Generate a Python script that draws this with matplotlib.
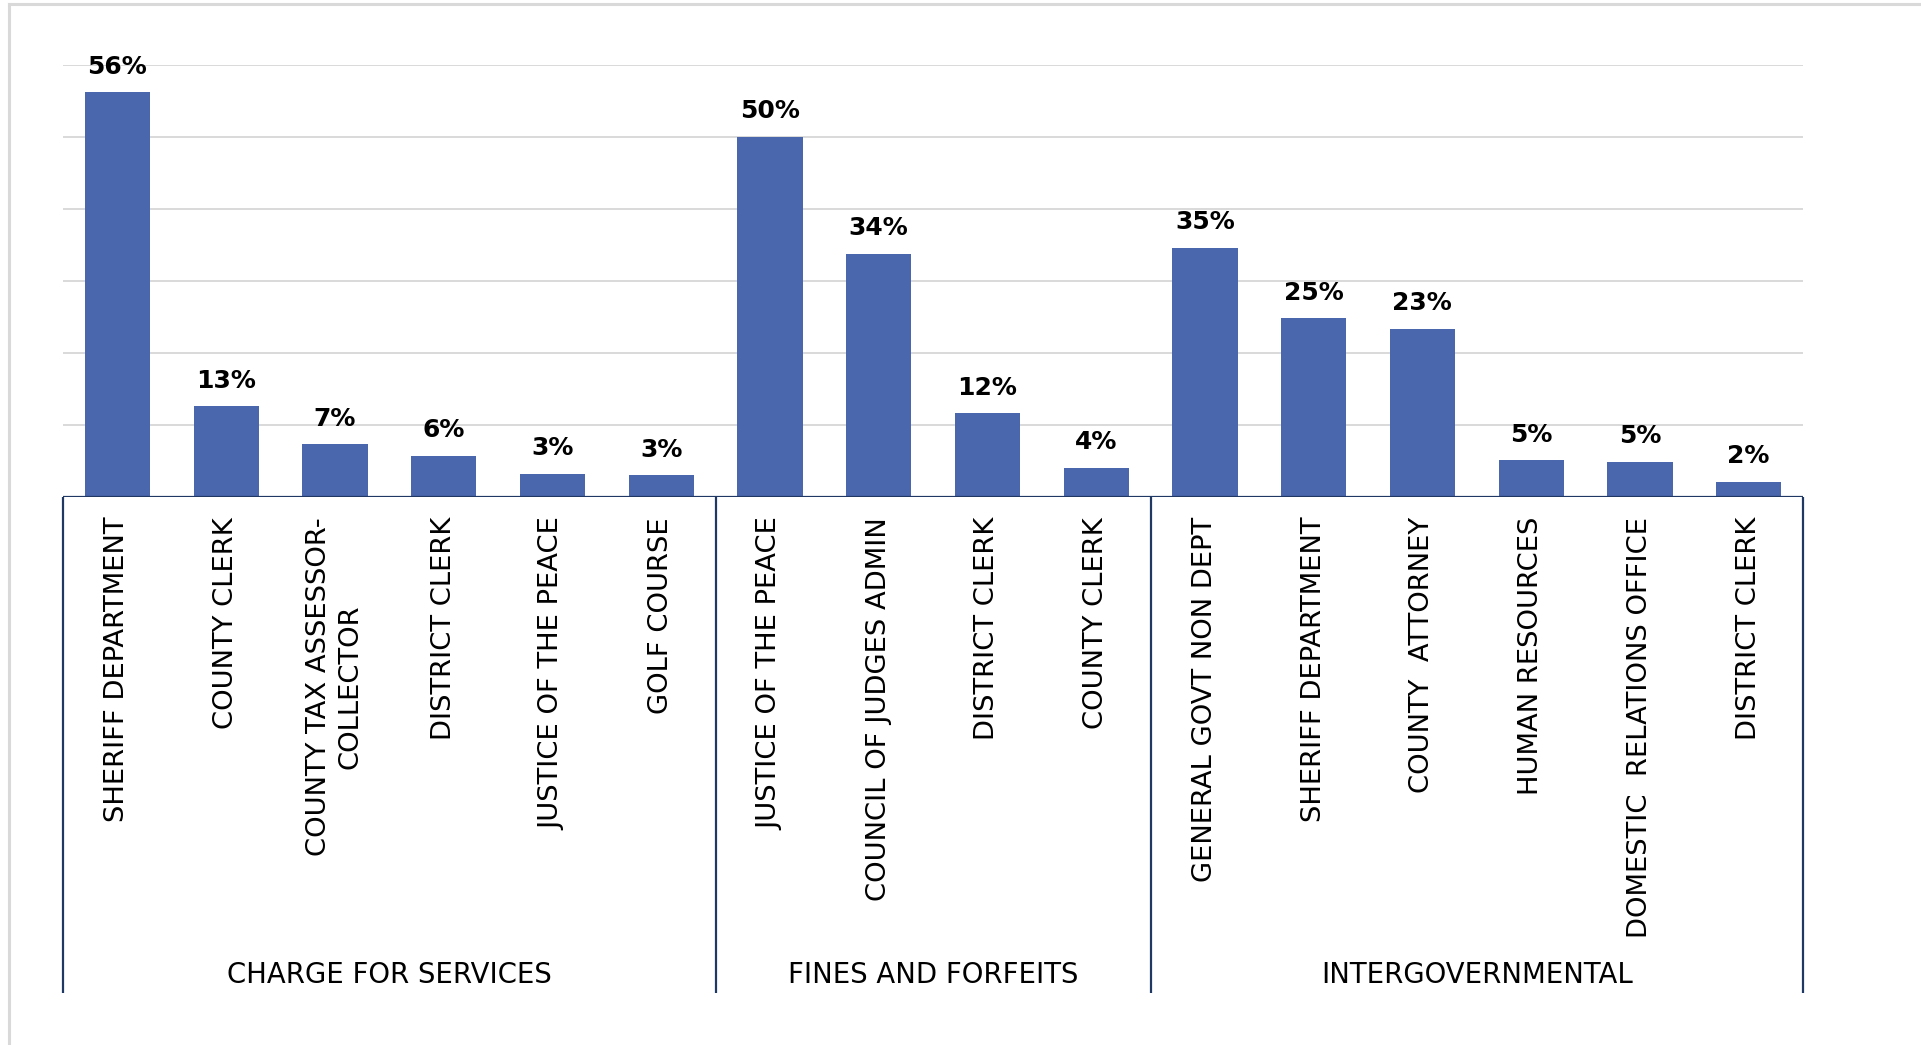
import matplotlib
matplotlib.use("Agg")
import matplotlib.pyplot as plt
import matplotlib.transforms as mtransforms
from matplotlib.lines import Line2D

plt.rcParams['font.family'] = ['DejaVu Sans']

# ---- data ----
groups = ["CHARGE FOR SERVICES", "FINES AND FORFEITS", "INTERGOVERNMENTAL"]
group_sizes = [6, 4, 6]
categories = [
    "SHERIFF DEPARTMENT", "COUNTY CLERK", "COUNTY TAX ASSESSOR-\nCOLLECTOR",
    "DISTRICT CLERK", "JUSTICE OF THE PEACE", "GOLF COURSE",
    "JUSTICE OF THE PEACE", "COUNCIL OF JUDGES ADMIN", "DISTRICT CLERK", "COUNTY CLERK",
    "GENERAL GOVT NON DEPT", "SHERIFF DEPARTMENT", "COUNTY  ATTORNEY",
    "HUMAN RESOURCES", "DOMESTIC  RELATIONS OFFICE", "DISTRICT CLERK",
]
values = [56.2, 12.6, 7.3, 5.7, 3.2, 3.0,
          50.0, 33.8, 11.6, 4.0,
          34.6, 24.8, 23.3, 5.1, 4.9, 2.1]
yticks = [10, 20, 30, 40, 50, 60]

# ---- style ----
BAR = "#4A66AC"
NAVY = "#1F3864"
GRID = "#D9D9D9"

W, H = 1921, 1045
fig = plt.figure(figsize=(W / 100, H / 100), dpi=100)
fig.patch.set_facecolor("white")

x0, x1 = 63, 1803
ybase, ytop = 497, 65
ax = fig.add_axes([x0 / W, (H - ybase) / H, (x1 - x0) / W, (ybase - ytop) / H])
axh = ybase - ytop

xs = list(range(len(values)))
ax.bar(xs, values, width=0.6, color=BAR, zorder=2)
ax.set_xlim(-0.5, len(values) - 0.5)
ax.set_ylim(0, 60)
for s in ax.spines.values():
    s.set_visible(False)
ax.set_xticks([])
ax.set_yticks([])
for t in yticks:
    ax.axhline(t, color=GRID, lw=1.4, zorder=1)
ax.axhline(0, color=NAVY, lw=1.6, zorder=3)

# data labels
for x, v in zip(xs, values):
    ax.annotate(f"{v:.0f}%", (x, v), xytext=(0, 13.5), textcoords="offset points",
                ha="center", va="baseline", fontsize=18, fontweight="bold",
                color="black", annotation_clip=False)

trans = mtransforms.blended_transform_factory(ax.transData, ax.transAxes)

# category labels
lab_top = -(517 - ybase) / axh
for x, c in zip(xs, categories):
    ax.text(x, lab_top, c, transform=trans, rotation=90, ha="center", va="top",
            fontsize=19.7, color="black", multialignment="center",
            linespacing=1.3)

# group separators and labels
sep_bottom = -(993 - ybase) / axh
grp_y = -(975 - ybase) / axh
start = 0
bounds = [-0.5]
for g, n in zip(groups, group_sizes):
    mid = start + (n - 1) / 2
    ax.text(mid, grp_y, g, transform=trans, ha="center", va="center",
            fontsize=19.8, color="black")
    start += n
    bounds.append(start - 0.5)
for b in bounds:
    ax.plot([b, b], [0, sep_bottom], transform=trans, color=NAVY, lw=1.6,
            clip_on=False, zorder=3, solid_capstyle="butt")

# outer light frame
fig.add_artist(Line2D([9 / W, 9 / W], [0, 1 - 4 / H], color=GRID, lw=2.2,
                      transform=fig.transFigure))
fig.add_artist(Line2D([9 / W, 1], [1 - 4 / H, 1 - 4 / H], color=GRID, lw=2.2,
                      transform=fig.transFigure))

fig.savefig("out.png", dpi=100)
